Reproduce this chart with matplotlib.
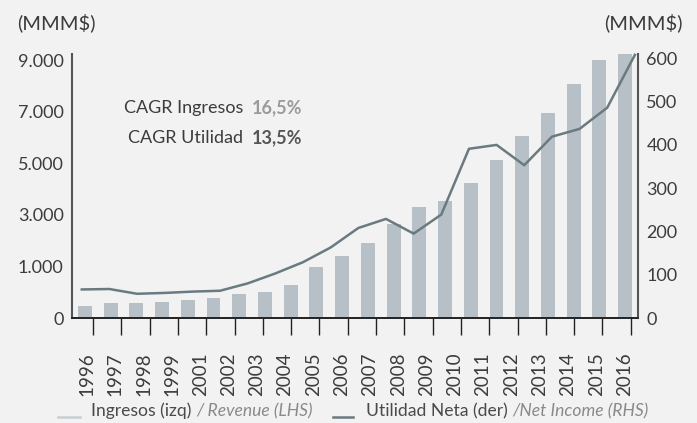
import numpy as np
import matplotlib
matplotlib.use("Agg")
import matplotlib.pyplot as plt

plt.rcParams['font.family'] = ['Lato', 'DejaVu Sans']

# datos
years = list(range(1996, 2017))
year_labels = ['1996', '1997', '1998', '1999', '2001', '2002', '2003', '2004', '2005', '2006',
               '2007', '2008', '2009', '2010', '2011', '2012', '2013', '2014', '2015', '2016']
ingresos = [419, 534, 534, 569, 638, 708, 848, 917, 1162, 1789, 2173,
            2627, 3289, 3882, 4081, 4719, 5511, 6348, 7161, 8173, 9010, 9219]
utilidad = [66, 67, 56, 58, 61, 63, 80, 103, 129, 163, 208,
            229, 195, 239, 391, 400, 353, 419, 437, 486, 608]
left_ticks = ['0', '1.000', '3.000', '5.000', '7.000', '9.000']
right_ticks = [0, 100, 200, 300, 400, 500, 600]

bg = '#F1F2F1'
bar_c = '#B7C0C6'
line_c = '#6A7A81'
txt = '#3C3C3C'

fig = plt.figure(figsize=(6.97, 4.23), dpi=100, facecolor=bg)
ax = fig.add_axes([0.1033, 0.2482, 0.812, 0.6241])
ax.set_facecolor(bg)
ax2 = ax.twinx()

# barras: 22 posiciones
xb = np.arange(len(ingresos)) + 0.5
ax.bar(xb, ingresos, width=0.54, color=bar_c, zorder=2)
ax.set_xlim(0, len(ingresos))
ax.set_ylim(0, 9210)
ax.set_yticks(np.linspace(0, 9000, len(left_ticks)))
ax.set_yticklabels(left_ticks)
ax.tick_params(axis='y', length=0, pad=6, labelsize=13, labelcolor=txt)

# linea de utilidad
xl = np.linspace(0.38, 21.88, len(years))
ax2.plot(xl, utilidad, color=line_c, lw=1.8, zorder=3, clip_on=False)
ax2.set_ylim(0, 610)
ax2.set_yticks(right_ticks)
ax2.tick_params(axis='y', length=0, pad=6, labelsize=13, labelcolor=txt)

# eje x: marcas y etiquetas desplazadas
ax.set_xticks(0.82 + 1.1 * np.arange(len(year_labels)))
ax.set_xticklabels([])
ax.tick_params(axis='x', which='major', length=12, width=1, color='#222222', direction='out')
ax.set_xticks(0.58 + 1.1 * np.arange(len(year_labels)), minor=True)
ax.set_xticklabels(year_labels, minor=True, rotation=90, fontsize=13.5, color=txt)
ax.tick_params(axis='x', which='minor', length=0, pad=25)

for a in (ax, ax2):
    a.spines['top'].set_visible(False)
    a.spines['left'].set_color('#555555')
    a.spines['right'].set_color('#555555')
    a.spines['left'].set_linewidth(1.5)
    a.spines['right'].set_linewidth(1.5)
    a.spines['bottom'].set_color('#222222')
    a.spines['bottom'].set_linewidth(1.2)
ax2.spines['left'].set_visible(False)
ax.spines['right'].set_visible(False)

fig.text(17 / 697, 1 - 23 / 423, '(MMM$)', fontsize=14.5, color=txt, va='center', ha='left')
fig.text(683 / 697, 1 - 23 / 423, '(MMM$)', fontsize=14.5, color=txt, va='center', ha='right')

# CAGR
fig.text(243 / 697, 1 - 108 / 423, 'CAGR Ingresos', fontsize=13, color=txt, ha='right', va='center')
fig.text(252 / 697, 1 - 108 / 423, '16,5%', fontsize=13, color='#9A9A9A', fontweight='bold', ha='left', va='center')
fig.text(243 / 697, 1 - 138 / 423, 'CAGR Utilidad', fontsize=13, color=txt, ha='right', va='center')
fig.text(252 / 697, 1 - 138 / 423, '13,5%', fontsize=13, color='#555555', fontweight='bold', ha='left', va='center')

# leyenda hecha a mano
fig.canvas.draw()
r = fig.canvas.get_renderer()
leg_y = 1 - 411 / 423


def chain(x0, parts, size):
    x = x0
    for s, c, st in parts:
        t = fig.text(x / 697, leg_y, s, fontsize=size, color=c, style=st,
                     ha='left', va='center')
        bb = t.get_window_extent(renderer=r)
        x = bb.x1


fig.add_artist(plt.Line2D([58 / 697, 80 / 697], [1 - 417 / 423] * 2, color='#C8CFD3', lw=1.8))
chain(91, [('Ingresos (izq) ', '#4A4A4A', 'normal'), ('/ Revenue (LHS)', '#8A8A8A', 'italic')], 12.6)
fig.add_artist(plt.Line2D([333 / 697, 353 / 697], [1 - 417 / 423] * 2, color=line_c, lw=1.8))
chain(366, [('Utilidad Neta (der) ', '#4A4A4A', 'normal'), ('/Net Income (RHS)', '#8A8A8A', 'italic')], 12.6)

fig.savefig('out.png', dpi=100, facecolor=bg)
